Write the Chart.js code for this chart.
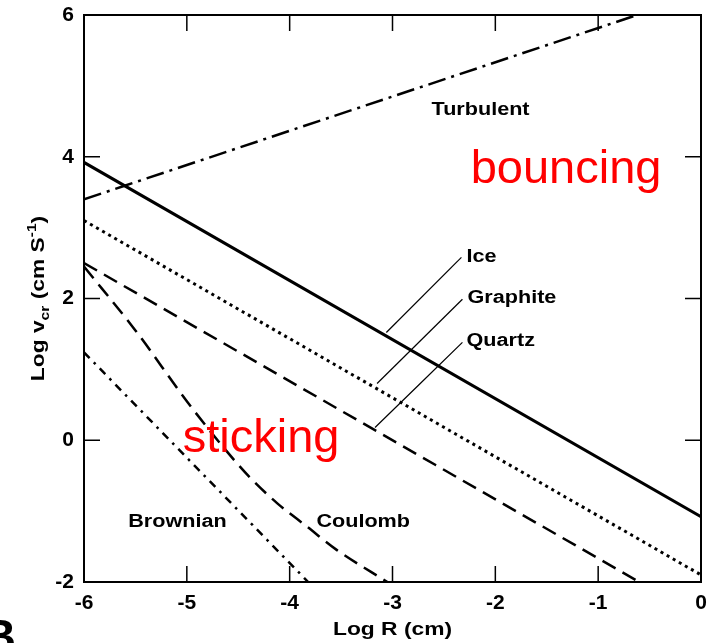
<!DOCTYPE html>
<html>
<head>
<meta charset="utf-8">
<script src="https://cdn.jsdelivr.net/npm/chart.js@4.4.1/dist/chart.umd.min.js"></script>
<style>
  html, body { margin: 0; padding: 0; background: #fff; }
  #wrap { width: 713px; height: 643px; }
</style>
</head>
<body>
<div id="wrap"><canvas id="chart" width="713" height="643"></canvas></div>
<script>
// --- data (log R in cm, log v_cr in cm/s) ---
const xTicks = [-6, -5, -4, -3, -2, -1, 0];
const yTicks = [-2, 0, 2, 4, 6];

const turbulentX = [-6, -0.62];
const turbulentY = [3.4, 6];
const iceX = [-6, 0];
const iceY = [3.92, -1.08];
const graphiteX = [-6, 0];
const graphiteY = [3.1, -1.9];
const quartzX = [-6, -0.6];
const quartzY = [2.5, -2];
// Coulomb curves: steep near the left edge, flatter lower down
const coulombX = [-6, -5.5, -5, -4.65, -4.39, -4.12, -3.83, -3.54, -3.05];
const coulombY = [2.45, 1.55, 0.55, -0.09, -0.52, -0.89, -1.22, -1.55, -2];
const brownianX = [-6, -3.82];
const brownianY = [1.24, -2];

// leader lines from the material labels to the curves
const iceLeadX = [-3.06, -2.33];
const iceLeadY = [1.52, 2.58];
const graphiteLeadX = [-3.15, -2.32];
const graphiteLeadY = [0.8, 1.99];
const quartzLeadX = [-3.17, -2.32];
const quartzLeadY = [0.18, 1.38];

const FONT = "'Liberation Sans', Arial, sans-serif";

function pts(xs, ys) {
    return xs.map((x, i) => ({ x: x, y: ys[i] }));
}

function line(xs, ys, dash, width) {
    return {
        data: pts(xs, ys),
        showLine: true,
        borderColor: '#000',
        borderWidth: width,
        borderDash: dash,
        pointRadius: 0,
        cubicInterpolationMode: 'monotone',
        fill: false
    };
}

// text labels: [text, x, y, style]
const labels = [
    ['Turbulent', -2.62, 4.59, 'bold'],
    ['Ice', -2.28, 2.51, 'bold'],
    ['Graphite', -2.27, 1.94, 'bold'],
    ['Quartz', -2.28, 1.33, 'bold'],
    ['Brownian', -5.57, -1.22, 'bold'],
    ['Coulomb', -3.74, -1.22, 'bold'],
    ['bouncing', -2.24, 3.63, 'red'],
    ['sticking', -5.04, -0.17, 'red']
];

function stretched(ctx, text, x, y, sx) {
    ctx.save();
    ctx.translate(x, y);
    ctx.scale(sx, 1);
    ctx.fillText(text, 0, 0);
    ctx.restore();
}

// keep the plot box where the figure has it, whatever the tick labels need
function noPad(s) {
    s.paddingTop = 0; s.paddingBottom = 0;
    s.paddingLeft = 0; s.paddingRight = 0;
}

const framePlugin = {
    id: 'frame',
    afterDatasetsDraw(chart) {
        const ctx = chart.ctx;
        const a = chart.chartArea;
        const xs = chart.scales.x, ys = chart.scales.y;
        ctx.save();
        ctx.strokeStyle = '#000';
        ctx.lineWidth = 2;
        ctx.strokeRect(a.left, a.top, a.right - a.left, a.bottom - a.top);

        // inward ticks on all four sides
        ctx.lineWidth = 1.5;
        const tl = 16;
        ctx.beginPath();
        xTicks.slice(1, -1).forEach(v => {
            const px = xs.getPixelForValue(v);
            ctx.moveTo(px, a.bottom); ctx.lineTo(px, a.bottom - tl);
            ctx.moveTo(px, a.top); ctx.lineTo(px, a.top + tl);
        });
        yTicks.slice(1, -1).forEach(v => {
            const py = ys.getPixelForValue(v);
            ctx.moveTo(a.left, py); ctx.lineTo(a.left + tl, py);
            ctx.moveTo(a.right, py); ctx.lineTo(a.right - tl, py);
        });
        ctx.stroke();

        // annotations
        ctx.textBaseline = 'alphabetic';
        ctx.textAlign = 'left';
        labels.forEach(([t, x, y, style]) => {
            const px = xs.getPixelForValue(x), py = ys.getPixelForValue(y);
            if (style === 'red') {
                ctx.fillStyle = '#ff0000';
                ctx.font = '47px ' + FONT;
                ctx.fillText(t, px, py);
            } else {
                ctx.fillStyle = '#000';
                ctx.font = 'bold 18px ' + FONT;
                stretched(ctx, t, px, py, 1.2);
            }
        });

        // x axis title
        ctx.fillStyle = '#000';
        ctx.font = 'bold 19px ' + FONT;
        ctx.textAlign = 'center';
        ctx.save();
        ctx.translate((a.left + a.right) / 2, 635);
        ctx.scale(1.2, 1);
        ctx.fillText('Log R (cm)', 0, 0);
        ctx.restore();

        // y axis title with subscript / superscript
        ctx.save();
        ctx.translate(44, (a.top + a.bottom) / 2);
        ctx.rotate(-Math.PI / 2);
        ctx.scale(1.2, 1);
        const big = 'bold 19px ' + FONT, small = 'bold 13px ' + FONT;
        const parts = [
            ['Log v', big, 0],
            ['cr', small, 5],
            [' (cm S', big, 0],
            ['-1', small, -8],
            [')', big, 0]
        ];
        let w = 0;
        parts.forEach(p => { ctx.font = p[1]; w += ctx.measureText(p[0]).width; });
        let cx = -w / 2;
        ctx.textAlign = 'left';
        parts.forEach(p => {
            ctx.font = p[1];
            ctx.fillText(p[0], cx, p[2]);
            cx += ctx.measureText(p[0]).width;
        });
        ctx.restore();

        // panel letter, cut off at the page edge
        ctx.font = 'bold 46px ' + FONT;
        ctx.textAlign = 'right';
        ctx.fillText('B', 16, 652);
        ctx.restore();
    }
};

new Chart(document.getElementById('chart'), {
    type: 'scatter',
    data: {
        datasets: [
            line(turbulentX, turbulentY, [18, 6, 3, 6], 2.5),
            line(iceX, iceY, [], 3),
            line(graphiteX, graphiteY, [3, 4], 3),
            line(quartzX, quartzY, [15, 8], 2.5),
            line(coulombX, coulombY, [15, 8], 2.5),
            line(brownianX, brownianY, [8, 6, 2.5, 6], 2.5),
            line(iceLeadX, iceLeadY, [], 1.2),
            line(graphiteLeadX, graphiteLeadY, [], 1.2),
            line(quartzLeadX, quartzLeadY, [], 1.2)
        ]
    },
    options: {
        responsive: false,
        animation: false,
        layout: { padding: { top: 15, right: 12, left: 0, bottom: 0 } },
        plugins: { legend: { display: false }, tooltip: { enabled: false } },
        scales: {
            x: {
                type: 'linear', min: -6, max: 0,
                afterBuildTicks: s => { s.ticks = xTicks.map(v => ({ value: v })); },
                afterFit: s => { s.height = 61; noPad(s); },
                grid: { display: false, drawTicks: false },
                border: { display: false },
                ticks: { color: '#000', padding: 9, font: { family: FONT, size: 21, weight: 'bold' } }
            },
            y: {
                type: 'linear', min: -2, max: 6,
                afterBuildTicks: s => { s.ticks = yTicks.map(v => ({ value: v })); },
                afterFit: s => { s.width = 84; noPad(s); },
                grid: { display: false, drawTicks: false },
                border: { display: false },
                ticks: { color: '#000', padding: 10, font: { family: FONT, size: 21, weight: 'bold' } }
            }
        }
    },
    plugins: [framePlugin]
});
</script>
</body>
</html>
